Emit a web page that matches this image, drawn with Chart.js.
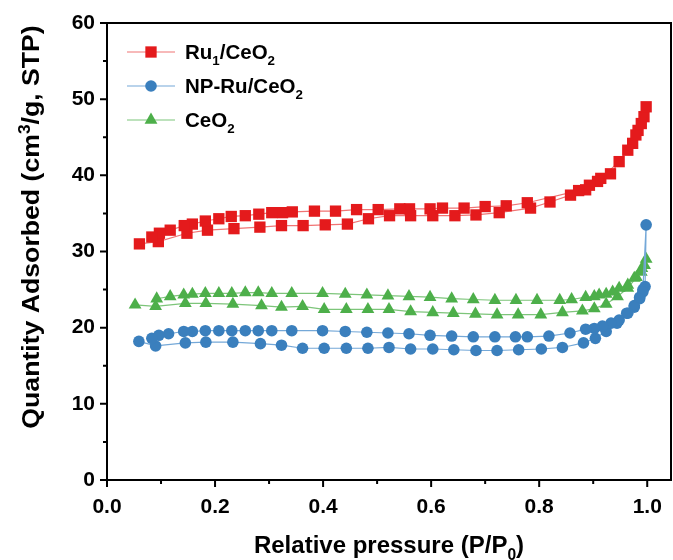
<!DOCTYPE html>
<html>
<head>
<meta charset="utf-8">
<script src="https://cdn.jsdelivr.net/npm/chart.js@4/dist/chart.umd.min.js"></script>
<style>
  html, body { margin: 0; padding: 0; background: #fff; }
</style>
</head>
<body>
<canvas id="isotherme" width="673" height="560"></canvas>
<script>
// --- DONNÉES ---
const seriesNames = ['Ru₁/CeO₂', 'NP-Ru/CeO₂', 'CeO₂'];
const xTicks = [0, 0.2, 0.4, 0.6, 0.8, 1.0];
const yTicks = [0, 10, 20, 30, 40, 50, 60];

// Ru1/CeO2 : branche basse (P croissant) puis branche haute (P décroissant)
const ru1P = [0.060, 0.095, 0.148, 0.186, 0.235, 0.283, 0.323, 0.363, 0.404, 0.445, 0.484, 0.523, 0.562, 0.603, 0.644, 0.683, 0.726, 0.784, 0.820, 0.858, 0.886, 0.914, 0.948, 0.973, 0.983, 0.994, 0.998,
              0.989, 0.979, 0.964, 0.932, 0.908, 0.893, 0.873, 0.778, 0.739, 0.700, 0.661, 0.621, 0.598, 0.560, 0.542, 0.502, 0.462, 0.423, 0.384, 0.343, 0.325, 0.305, 0.281, 0.256, 0.230, 0.207, 0.182, 0.158, 0.143, 0.117, 0.097, 0.083];
const ru1Q = [31.0, 31.3, 32.4, 32.8, 33.0, 33.2, 33.4, 33.4, 33.5, 33.6, 34.3, 34.7, 34.7, 34.7, 34.7, 34.8, 35.1, 35.7, 36.5, 37.4, 38.1, 39.6, 41.8, 44.2, 45.9, 47.7, 49.0,
              46.8, 45.3, 43.3, 40.2, 39.2, 38.7, 38.0, 36.4, 36.0, 35.9, 35.7, 35.7, 35.6, 35.6, 35.6, 35.5, 35.5, 35.3, 35.3, 35.2, 35.1, 35.1, 34.9, 34.7, 34.6, 34.3, 34.0, 33.6, 33.4, 32.8, 32.4, 31.9];

// NP-Ru/CeO2
const npP = [0.059, 0.090, 0.145, 0.183, 0.233, 0.284, 0.323, 0.362, 0.402, 0.443, 0.483, 0.522, 0.562, 0.603, 0.642, 0.683, 0.722, 0.762, 0.804, 0.843, 0.882, 0.904, 0.924, 0.944, 0.962, 0.976, 0.986, 0.992, 0.998,
             0.996, 0.992, 0.986, 0.976, 0.964, 0.948, 0.933, 0.917, 0.902, 0.886, 0.857, 0.818, 0.778, 0.756, 0.718, 0.678, 0.638, 0.598, 0.559, 0.520, 0.481, 0.441, 0.399, 0.342, 0.305, 0.280, 0.256, 0.231, 0.207, 0.182, 0.158, 0.142, 0.114, 0.096, 0.083];
const npQ = [18.2, 17.6, 18.0, 18.1, 18.1, 17.9, 17.7, 17.3, 17.3, 17.3, 17.3, 17.4, 17.2, 17.2, 17.1, 17.0, 17.0, 17.1, 17.2, 17.4, 18.0, 18.6, 19.5, 20.6, 21.9, 22.9, 24.0, 25.0, 33.5,
             25.4, 24.7, 23.8, 22.7, 21.9, 21.0, 20.6, 20.2, 19.9, 19.8, 19.3, 18.9, 18.8, 18.8, 18.8, 18.8, 18.9, 19.0, 19.2, 19.3, 19.4, 19.5, 19.6, 19.6, 19.6, 19.6, 19.6, 19.6, 19.6, 19.6, 19.5, 19.5, 19.2, 19.0, 18.6];

// CeO2
const ceP = [0.052, 0.090, 0.145, 0.183, 0.233, 0.286, 0.323, 0.362, 0.402, 0.443, 0.483, 0.522, 0.562, 0.603, 0.641, 0.682, 0.722, 0.761, 0.803, 0.843, 0.880, 0.902, 0.924, 0.945, 0.964, 0.980, 0.990, 0.998,
             0.995, 0.989, 0.976, 0.964, 0.948, 0.936, 0.924, 0.911, 0.902, 0.886, 0.860, 0.838, 0.796, 0.757, 0.718, 0.678, 0.638, 0.598, 0.559, 0.520, 0.481, 0.441, 0.399, 0.342, 0.305, 0.280, 0.256, 0.231, 0.207, 0.182, 0.158, 0.142, 0.117, 0.092];
const ceQ = [23.0, 22.8, 23.2, 23.2, 23.1, 22.9, 22.7, 22.8, 22.4, 22.4, 22.4, 22.4, 22.1, 22.0, 21.9, 21.8, 21.7, 21.7, 21.7, 22.0, 22.2, 22.5, 23.1, 24.1, 25.2, 26.6, 27.8, 29.0,
             28.2, 27.3, 26.5, 25.6, 25.2, 24.7, 24.4, 24.3, 24.1, 24.0, 23.7, 23.6, 23.6, 23.6, 23.6, 23.7, 23.8, 24.0, 24.1, 24.2, 24.3, 24.4, 24.5, 24.5, 24.5, 24.6, 24.6, 24.5, 24.5, 24.5, 24.4, 24.3, 24.1, 23.8];

// --- STYLES ---
const police = "'Liberation Sans', Arial, sans-serif";
const styles = [
    { marque: '#E41A1C', trait: '#F07474', forme: 'rect', rayon: 8 },
    { marque: '#3A7FBD', trait: '#74A8D8', forme: 'circle', rayon: 5.8 },
    { marque: '#4DAF4A', trait: '#7DC57A', forme: 'triangle', rayon: 7.4 }
];

function points(xs, ys) {
    return xs.map((x, i) => ({ x: x, y: ys[i] }));
}

// Texte avec indices / exposants : [texte, 0 normal | 1 indice | 2 exposant]
function texteRiche(ctx, morceaux, x, y, taille, align) {
    const fonte = s => 'bold ' + s + 'px ' + police;
    let total = 0;
    morceaux.forEach(m => {
        ctx.font = fonte(m[1] ? taille * 0.65 : taille);
        total += ctx.measureText(m[0]).width;
    });
    let cx = align === 'center' ? x - total / 2 : x;
    ctx.textBaseline = 'alphabetic';
    ctx.textAlign = 'left';
    morceaux.forEach(m => {
        const s = m[1] ? taille * 0.65 : taille;
        ctx.font = fonte(s);
        const dy = m[1] === 1 ? taille * 0.28 : (m[1] === 2 ? -taille * 0.38 : 0);
        ctx.fillText(m[0], cx, y + dy);
        cx += ctx.measureText(m[0]).width;
    });
}

function marqueur(ctx, forme, x, y, r, couleur) {
    ctx.fillStyle = couleur;
    ctx.beginPath();
    if (forme === 'rect') {
        const d = r * Math.SQRT1_2;
        ctx.rect(x - d, y - d, 2 * d, 2 * d);
    } else if (forme === 'circle') {
        ctx.arc(x, y, r, 0, Math.PI * 2);
    } else {
        ctx.moveTo(x, y - r);
        ctx.lineTo(x + r * Math.sin(Math.PI / 3), y + r / 2);
        ctx.lineTo(x - r * Math.sin(Math.PI / 3), y + r / 2);
        ctx.closePath();
    }
    ctx.fill();
}

const legendeTextes = [
    [['Ru', 0], ['1', 1], ['/CeO', 0], ['2', 1]],
    [['NP-Ru/CeO', 0], ['2', 1]],
    [['CeO', 0], ['2', 1]]
];

// Cadre, graduations, titres d'axes et légende
const habillage = {
    id: 'habillage',
    afterDraw(chart) {
        const ctx = chart.ctx;
        const a = chart.chartArea;
        const sx = chart.scales.x, sy = chart.scales.y;
        ctx.save();
        ctx.strokeStyle = '#000';
        ctx.lineWidth = 2;
        ctx.strokeRect(a.left, a.top, a.right - a.left, a.bottom - a.top);

        ctx.beginPath();
        xTicks.forEach((v, i) => {
            const px = sx.getPixelForValue(v);
            ctx.moveTo(px, a.bottom); ctx.lineTo(px, a.bottom + 7);
            if (i < xTicks.length - 1) {
                const pm = sx.getPixelForValue((v + xTicks[i + 1]) / 2);
                ctx.moveTo(pm, a.bottom); ctx.lineTo(pm, a.bottom + 4);
            }
        });
        yTicks.forEach((v, i) => {
            const py = sy.getPixelForValue(v);
            ctx.moveTo(a.left, py); ctx.lineTo(a.left - 7, py);
            if (i < yTicks.length - 1) {
                const pm = sy.getPixelForValue((v + yTicks[i + 1]) / 2);
                ctx.moveTo(a.left, pm); ctx.lineTo(a.left - 4, pm);
            }
        });
        ctx.stroke();

        ctx.fillStyle = '#000';
        texteRiche(ctx, [['Relative pressure (P/P', 0], ['0', 1], [')', 0]],
            (a.left + a.right) / 2, 553, 24, 'center');

        // titre Y, un peu étiré dans le sens du texte comme sur l'original
        ctx.save();
        ctx.translate(39, 227);
        ctx.rotate(-Math.PI / 2);
        ctx.scale(1.11, 1);
        ctx.fillStyle = '#000';
        texteRiche(ctx, [['Quantity Adsorbed (cm', 0], ['3', 2], ['/g, STP)', 0]], 0, 0, 24, 'center');
        ctx.restore();

        // légende
        styles.forEach((st, i) => {
            const ly = 52 + i * 34;
            ctx.strokeStyle = st.trait;
            ctx.lineWidth = 1.2;
            ctx.beginPath();
            ctx.moveTo(127, ly); ctx.lineTo(175, ly);
            ctx.stroke();
            marqueur(ctx, st.forme, 151, ly, st.rayon, st.marque);
            ctx.fillStyle = '#000';
            texteRiche(ctx, legendeTextes[i], 185, ly + 7, 20.5, 'left');
        });
        ctx.restore();
    }
};

const series = [points(ru1P, ru1Q), points(npP, npQ), points(ceP, ceQ)];

new Chart(document.getElementById('isotherme').getContext('2d'), {
    type: 'scatter',
    data: {
        datasets: series.map((d, i) => ({
            label: seriesNames[i],
            data: d,
            showLine: true,
            borderColor: styles[i].trait,
            borderWidth: 1.2,
            pointStyle: styles[i].forme,
            pointRadius: styles[i].rayon,
            pointBackgroundColor: styles[i].marque,
            pointBorderWidth: 0,
            pointHoverRadius: styles[i].rayon
        }))
    },
    options: {
        responsive: false,
        animation: false,
        layout: { autoPadding: false, padding: { top: 23, right: 2, left: 0, bottom: 0 } },
        plugins: { legend: { display: false }, tooltip: { enabled: false } },
        scales: {
            x: {
                type: 'linear', min: 0, max: 1.044,
                afterBuildTicks: s => { s.ticks = xTicks.map(v => ({ value: v })); },
                afterFit: s => { s.height = 80; s.paddingLeft = 0; s.paddingRight = 0; },
                // marques invisibles : elles ne servent qu'à décaler les étiquettes
                grid: { display: false, drawTicks: true, tickLength: 15 },
                border: { display: false },
                ticks: {
                    padding: 0, color: '#000', maxRotation: 0, autoSkip: false,
                    font: { family: police, size: 21, weight: 'bold' },
                    callback: v => v.toFixed(1)
                }
            },
            y: {
                type: 'linear', min: 0, max: 60,
                afterBuildTicks: s => { s.ticks = yTicks.map(v => ({ value: v })); },
                afterFit: s => { s.width = 107; },
                grid: { display: false, drawTicks: true, tickLength: 12 },
                border: { display: false },
                ticks: {
                    padding: 0, color: '#000',
                    font: { family: police, size: 21, weight: 'bold' },
                    callback: v => v
                }
            }
        }
    },
    plugins: [habillage]
});
</script>
</body>
</html>
